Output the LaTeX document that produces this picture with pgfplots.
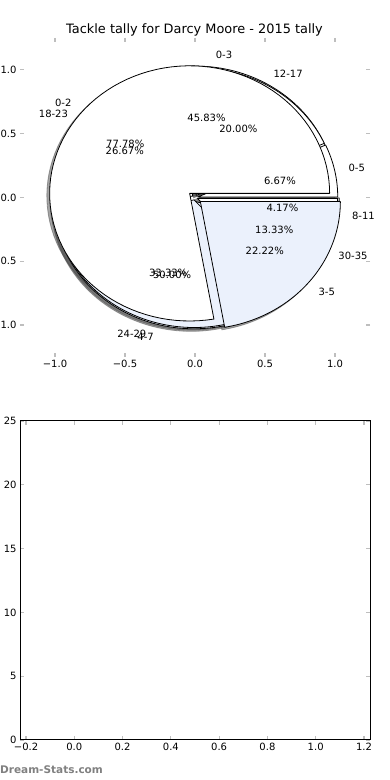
\documentclass[border=0pt]{standalone}
\usepackage{pgfplots}
\pgfplotsset{compat=1.18}
\usepackage{fontspec}
\setmainfont{DejaVu Sans}
\definecolor{pieblue}{RGB}{235,241,252}
\definecolor{tickgray}{RGB}{190,190,190}
\newcommand\labfont{\fontsize{10bp}{12bp}\selectfont}
\newcommand\tickfont{\fontsize{10bp}{12bp}\selectfont}

% #1 explode, #2 start pct, #3 end pct
\newcommand{\pieshadow}[3]{%
  \pgfmathsetmacro\wa{3.6*#2}\pgfmathsetmacro\wb{3.6*#3}\pgfmathsetmacro\wm{(\wa+\wb)/2}%
  \pgfmathsetmacro\cx{#1*cos(\wm)-0.02}\pgfmathsetmacro\cy{#1*sin(\wm)-0.02}%
  \edef\temp{\noexpand\addplot[fill=black!70, fill opacity=0.5, draw=black!70, draw opacity=0.5, line width=0.8bp, domain=\wa:\wb, samples=90] ({\cx+cos(x)},{\cy+sin(x)}) -- (\cx,\cy) -- cycle;}\temp}
% #1 explode, #2 start pct, #3 end pct, #4 fill
\newcommand{\pieslice}[4]{%
  \pgfmathsetmacro\wa{3.6*#2}\pgfmathsetmacro\wb{3.6*#3}\pgfmathsetmacro\wm{(\wa+\wb)/2}%
  \pgfmathsetmacro\cx{#1*cos(\wm)}\pgfmathsetmacro\cy{#1*sin(\wm)}%
  \edef\temp{\noexpand\addplot[fill=#4, draw=black, line width=0.8bp, line join=round, domain=\wa:\wb, samples=90] ({\cx+cos(x)},{\cy+sin(x)}) -- (\cx,\cy) -- cycle;}\temp}
% #1 explode, #2 start pct, #3 end pct, #4 label, #5 pct text
\newcommand{\pielabel}[5]{%
  \pgfmathsetmacro\wa{3.6*#2}\pgfmathsetmacro\wb{3.6*#3}\pgfmathsetmacro\wm{(\wa+\wb)/2}%
  \pgfmathsetmacro\cx{#1*cos(\wm)}\pgfmathsetmacro\cy{#1*sin(\wm)}%
  \pgfmathsetmacro\lx{\cx+1.1*cos(\wm)}\pgfmathsetmacro\ly{\cy+1.1*sin(\wm)}%
  \pgfmathsetmacro\px{\cx+0.6*cos(\wm)}\pgfmathsetmacro\py{\cy+0.6*sin(\wm)}%
  \pgfmathtruncatemacro\isneg{\lx<0}%
  \ifnum\isneg=1 \def\anc{east}\else\def\anc{west}\fi
  \edef\temp{\noexpand\node[anchor=\anc, font=\noexpand\labfont, inner sep=0pt] at (\lx,\ly) {\unexpanded{#4}};
    \noexpand\node[font=\noexpand\labfont, inner sep=0pt] at (\px,\py) {\unexpanded{#5}};}\temp}

\begin{document}
\begin{tikzpicture}
\useasboundingbox (0,0) rectangle (390bp,780bp);
\node[font=\fontsize{12.9bp}{15bp}\selectfont] at (194.5bp,750bp) {Tackle tally for Darcy Moore - 2015 tally};
\begin{axis}[at={(20bp,423bp)}, anchor=south west, scale only axis,
  width=350bp, height=319bp,
  xmin=-1.25, xmax=1.25, ymin=-1.25, ymax=1.25,
  axis line style={draw=none},
  xtick={-1,-0.5,0,0.5,1}, xticklabels={−1.0,−0.5,0.0,0.5,1.0},
  ytick={-1,-0.5,0,0.5,1}, yticklabels={−1.0,−0.5,0.0,0.5,1.0},
  tick style={tickgray, line width=1.2bp}, major tick length=4bp, tick align=inside,
  ticklabel style={font=\tickfont},
  clip=false]
% shadows
\pieshadow{0.03}{0}{45.83}
\pieshadow{0.03}{45.83}{95.83}
\pieshadow{0.03}{95.83}{100}
\pieshadow{0.02}{0}{6.67}
\pieshadow{0.02}{6.67}{26.67}
\pieshadow{0.02}{26.67}{53.33}
\pieshadow{0.02}{53.33}{86.67}
\pieshadow{0.02}{86.67}{100}
\pieshadow{0.05}{0}{77.78}
\pieshadow{0.05}{77.78}{100}
% pie 1: 0-3, 4-7, 8-11
\pieslice{0.03}{0}{45.83}{white}
\pieslice{0.03}{45.83}{95.83}{pieblue}
\pieslice{0.03}{95.83}{100}{white}
% pie 2: 0-5, 12-17, 18-23, 24-29, 30-35
\pieslice{0.02}{0}{6.67}{white}
\pieslice{0.02}{6.67}{26.67}{white}
\pieslice{0.02}{26.67}{53.33}{white}
\pieslice{0.02}{53.33}{86.67}{pieblue}
\pieslice{0.02}{86.67}{100}{white}
% pie 3: 0-2, 3-5
\pieslice{0.05}{0}{77.78}{white}
\pieslice{0.05}{77.78}{100}{pieblue}
% labels
\pielabel{0.03}{0}{45.83}{0-3}{45.83\%}
\pielabel{0.03}{45.83}{95.83}{4-7}{50.00\%}
\pielabel{0.03}{95.83}{100}{8-11}{4.17\%}
\pielabel{0.02}{0}{6.67}{0-5}{6.67\%}
\pielabel{0.02}{6.67}{26.67}{12-17}{20.00\%}
\pielabel{0.02}{26.67}{53.33}{18-23}{26.67\%}
\pielabel{0.02}{53.33}{86.67}{24-29}{33.33\%}
\pielabel{0.02}{86.67}{100}{30-35}{13.33\%}
\pielabel{0.05}{0}{77.78}{0-2}{77.78\%}
\pielabel{0.05}{77.78}{100}{3-5}{22.22\%}
\end{axis}
\begin{axis}[at={(20bp,40bp)}, anchor=south west, scale only axis,
  width=350bp, height=319bp,
  xmin=-0.225, xmax=1.225, ymin=0, ymax=25,
  axis line style={black, line width=1bp},
  xtick={-0.2,0,0.2,0.4,0.6,0.8,1.0,1.2},
  xticklabels={−0.2,0.0,0.2,0.4,0.6,0.8,1.0,1.2},
  ytick={0,5,10,15,20,25}, yticklabels={0,5,10,15,20,25},
  tick style={tickgray, line width=1.2bp}, major tick length=4bp, tick align=inside,
  ticklabel style={font=\tickfont}]
\end{axis}
\node[anchor=west, inner sep=0pt, text=gray, font=\fontsize{10.5bp}{12bp}\selectfont\bfseries] at (0bp,10bp) {Dream-Stats.com};
\end{tikzpicture}
\end{document}
